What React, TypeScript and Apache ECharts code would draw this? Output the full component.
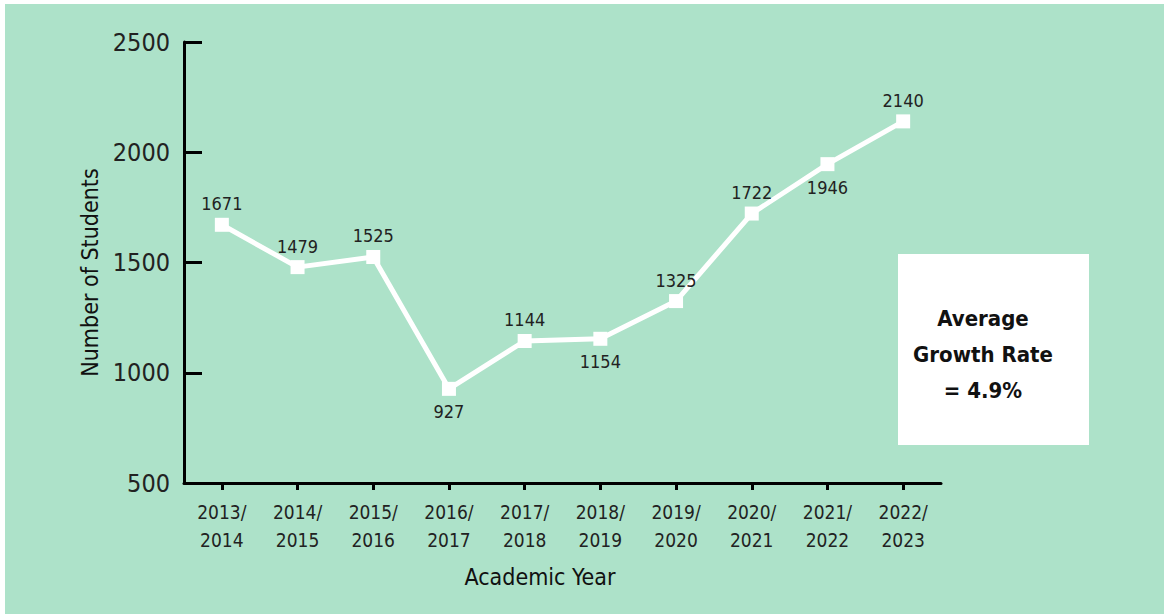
import React, { useEffect, useRef } from "react";
import * as echarts from "echarts";

const years = ["2013/\n2014", "2014/\n2015", "2015/\n2016", "2016/\n2017", "2017/\n2018", "2018/\n2019", "2019/\n2020", "2020/\n2021", "2021/\n2022", "2022/\n2023"];
const students = [1671, 1479, 1525, 927, 1144, 1154, 1325, 1722, 1946, 2140];
const labelBelow = [false, false, false, true, false, true, false, false, true, false];
const yTicks = { min: 500, max: 2500, interval: 500 };
const boxLines = ["Average", "Growth Rate", "= 4.9%"];

const FONT = '"DejaVu Sans Condensed", "Roboto", sans-serif';

export default function App() {
  const ref = useRef<HTMLDivElement>(null);
  useEffect(() => {
    const chart = echarts.init(ref.current!, null, { renderer: "svg" });
    chart.setOption({
      animation: false,
      backgroundColor: "#ffffff",
      textStyle: { fontFamily: FONT },
      graphic: [
        { type: "rect", z: -10, silent: true, shape: { x: 5, y: 4, width: 1159, height: 610 }, style: { fill: "#ade2c9" } },
        { type: "rect", z: 10, shape: { x: 898, y: 254, width: 191, height: 191 }, style: { fill: "#ffffff" } },
        {
          type: "text", z: 11, x: 983, y: 354,
          style: {
            text: boxLines.join("\n"), align: "center", verticalAlign: "middle",
            font: `bold 22px ${FONT}`, lineHeight: 36, fill: "#111111",
          },
        },
      ],
      grid: { left: 184, right: 223, top: 42, bottom: 131, containLabel: false },
      xAxis: {
        type: "category",
        data: years,
        boundaryGap: true,
        axisLine: { lineStyle: { color: "#000", width: 3 } },
        axisTick: { show: true, alignWithLabel: true, length: 7, lineStyle: { color: "#000", width: 3 } },
        axisLabel: { color: "#222", fontSize: 19, lineHeight: 28, margin: 15, fontFamily: FONT },
        name: "Academic Year",
        nameLocation: "middle",
        nameGap: 82,
        nameTextStyle: { color: "#111", fontSize: 23, fontFamily: FONT, padding: [0, 45, 0, 0] },
      },
      yAxis: {
        type: "value",
        min: yTicks.min,
        max: yTicks.max,
        interval: yTicks.interval,
        splitLine: { show: false },
        axisLine: { show: true, lineStyle: { color: "#000", width: 3 } },
        axisTick: { show: true, inside: true, length: 18, lineStyle: { color: "#000", width: 3 } },
        axisLabel: { color: "#222", fontSize: 25, margin: 14, fontFamily: FONT, formatter: (v: number) => String(v) },
        name: "Number of Students",
        nameLocation: "middle",
        nameGap: 82,
        nameRotate: 90,
        nameTextStyle: { color: "#111", fontSize: 23, fontFamily: FONT, padding: [0, 20, 0, 0] },
      },
      series: [
        {
          type: "line",
          data: students.map((v, i) => ({
            value: v,
            label: { position: labelBelow[i] ? "bottom" : "top", distance: labelBelow[i] ? 7 : 5 },
          })),
          lineStyle: { color: "#ffffff", width: 5 },
          itemStyle: { color: "#ffffff" },
          symbol: "rect",
          symbolSize: 14,
          label: { show: true, color: "#222", fontSize: 18, fontFamily: FONT },
        },
      ],
    });
    return () => chart.dispose();
  }, []);
  return <div ref={ref} style={{ position: "absolute", left: 0, top: 0, width: 1164, height: 614 }} />;
}
